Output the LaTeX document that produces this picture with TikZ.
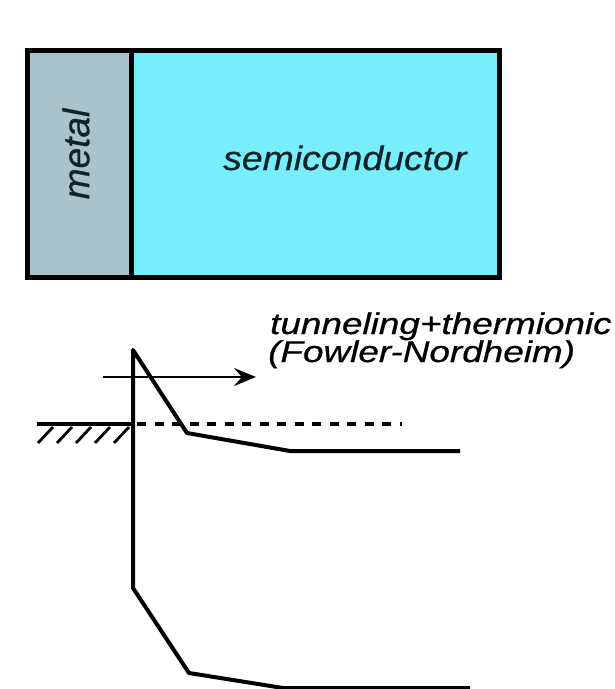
\documentclass[tikz,border=0pt]{standalone}
\usepackage{fontspec}
\setmainfont{Liberation Sans}
\newfontfamily\labelfont[FakeBold=0.6]{Liberation Sans Italic}
\usetikzlibrary{arrows.meta}
\definecolor{metalc}{HTML}{A9C2CB}
\definecolor{semic}{HTML}{78EEFC}
\definecolor{txt}{HTML}{102428}
\begin{document}
\begin{tikzpicture}[x=1pt,y=-1pt,
  band/.style={line width=4pt,line join=round},
  boxline/.style={line width=4.5pt},
  hatchline/.style={line width=2.8pt},
  lbl/.style={inner sep=0pt}]
\useasboundingbox (0,0) rectangle (614,689);
% device
\fill[metalc] (27.5,50.5) rectangle (131.5,277.5);
\fill[semic] (131.5,50.5) rectangle (499.5,277.5);
\draw[boxline] (27.5,50.5) rectangle (499.5,277.5);
\draw[boxline] (131.5,50.5) -- (131.5,277.5);
\node[lbl,rotate=90,text=txt,font=\labelfont\fontsize{37}{40}\selectfont] (metal) at (76,154) {metal};
\node[lbl,anchor=base west,text=txt,font=\labelfont\fontsize{34}{38}\selectfont] (semi) at (223,170) {\scalebox{1.1}[1]{semiconductor}};
% band diagram
\coordinate (cbend) at (460,451);
\coordinate (cb2) at (290,451);
\coordinate (cb1) at (187,433);
\coordinate (peak) at (133,350);
\coordinate (vbot) at (133,588);
\coordinate (vb1) at (189,673);
\coordinate (vb2) at (283,688);
\coordinate (vbend) at (470,688);
\draw[band] (cbend) -- (cb2) -- (cb1) -- (peak) -- (vbot) -- (vb1) -- (vb2) -- (vbend);
% Fermi level
\coordinate (fl0) at (37,424);
\coordinate (fl1) at (133,424);
\coordinate (fl2) at (402,424);
\draw[line width=4pt] (fl0) -- (fl1);
\draw[line width=4pt,dash pattern=on 9pt off 8.5pt,dash phase=-4pt] (fl1) -- (fl2);
\foreach \i in {0,...,4}{
  \draw[hatchline] ({38+19*\i},443) -- ({53+19*\i},427);
}
% arrow
\coordinate (a0) at (103,377);
\coordinate (a1) at (256,377);
\draw[line width=2.6pt,-{Stealth[length=22pt,width=18pt,inset=8pt]}] (a0) -- (a1);
\node[lbl,anchor=base west,font=\labelfont\fontsize{30}{34}\selectfont] (t1) at (270,334) {\scalebox{1.23}[1]{tunneling+thermionic}};
\node[lbl,anchor=base west,font=\labelfont\fontsize{30}{34}\selectfont] (t2) at (268,362) {\scalebox{1.23}[1]{(Fowler-Nordheim)}};
\end{tikzpicture}
\end{document}
